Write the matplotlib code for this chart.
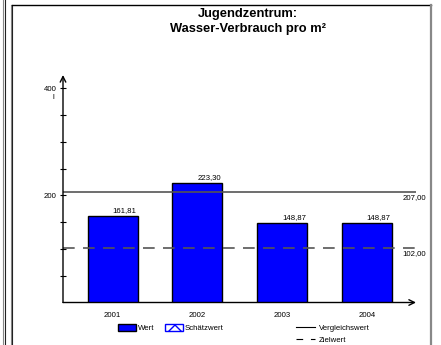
import numpy as np
import matplotlib.pyplot as plt
from matplotlib.patches import Patch
from matplotlib.lines import Line2D

plt.rcParams['font.family'] = ['Liberation Sans', 'DejaVu Sans']

# data
jahre = ['2001', '2002', '2003', '2004']
werte = [161.81, 223.30, 148.87, 148.87]
vergleichswert = 207.00
zielwert = 102.00
titel = 'Jugendzentrum:\nWasser-Verbrauch pro m²'
einheit = 'l'

W, H = 441, 345
fs = 5.6
fig = plt.figure(figsize=(W / 100, H / 100), dpi=100)

# outer frames (page decoration)
top = 1 - 4.5 / H
for x0, c in [(3, '#888888'), (4.5, '#222222'), (11, '#888888'), (12, '#222222')]:
    fig.add_artist(Line2D([x0 / W, x0 / W], [0, top if x0 > 10 else 1], color=c, lw=0.8))
fig.add_artist(Line2D([12 / W, 431 / W], [top, top], color='black', lw=1))
fig.add_artist(Line2D([431 / W, 431 / W], [0, top], color='#888888', lw=1.6))

ax = fig.add_axes([63 / W, 1 - 302.5 / H, (416 - 63) / W, 227.5 / H])
x = np.arange(len(jahre))
ax.bar(x, werte, width=0.59, color='#0000ff', edgecolor='black', linewidth=1, zorder=2)

ax.axhline(vergleichswert, color='#555555', lw=1.2, zorder=3)
ax.axhline(zielwert, color='#555555', lw=1.2, ls=(0, (7, 5)), zorder=3)

ax.set_xlim(-0.586, 3.578)
ax.set_ylim(0, 425)

for xi, v in zip(x, werte):
    ax.text(xi + 0.28, v + 4, f'{v:.2f}'.replace('.', ','), ha='right', va='bottom', fontsize=fs)
for v in (vergleichswert, zielwert):
    ax.text(426 / W, v - 4, f'{v:.2f}'.replace('.', ','),
            transform=ax.get_yaxis_transform().__class__(fig.transFigure, ax.transData),
            ha='right', va='top', fontsize=fs)

for s in ax.spines.values():
    s.set_visible(False)
ax.annotate('', xy=(0, 1), xytext=(0, 0), xycoords='axes fraction',
            arrowprops=dict(arrowstyle='->', lw=1, color='black', shrinkA=0, shrinkB=0))
ax.annotate('', xy=(1, 0), xytext=(0, 0), xycoords='axes fraction',
            arrowprops=dict(arrowstyle='->', lw=1, color='black', shrinkA=0, shrinkB=0))

ax.set_yticks(np.arange(50, 401, 50))
ax.set_yticklabels(['' if t % 200 else str(t) for t in range(50, 401, 50)])
ax.tick_params(axis='y', direction='inout', length=5, width=0.8, labelsize=fs, pad=2)
ax.set_xticks(x)
ax.set_xticklabels(jahre)
ax.tick_params(axis='x', length=0, labelsize=fs, pad=7)
ax.text(-0.025, 0.90, einheit, transform=ax.transAxes, ha='right', va='center', fontsize=fs)

fig.text(248 / W, 1 - 21.5 / H, titel, ha='center', va='center', fontsize=9.3,
         fontweight='bold', linespacing=1.25)

# legend
handles = [Patch(facecolor='#0000ff', edgecolor='black', label='Wert'),
           Patch(facecolor='white', edgecolor='#0000ff', hatch='xx', label='Schätzwert')]
fig.legend(handles=handles, loc='center left', bbox_to_anchor=(118 / W, 1 - 328 / H), ncol=2,
           frameon=False, fontsize=fs, handlelength=2.3, handleheight=1.1, columnspacing=1.3,
           handletextpad=0.3, borderpad=0, borderaxespad=0)
lhandles = [Line2D([], [], color='black', lw=0.8, label='Vergleichswert'),
            Line2D([], [], color='black', lw=0.8, ls=(0, (6, 7)), label='Zielwert')]
fig.legend(handles=lhandles, loc='center left', bbox_to_anchor=(296 / W, 1 - 334 / H), ncol=1,
           frameon=False, fontsize=fs, handlelength=2.4, handletextpad=0.5, labelspacing=0.6,
           borderpad=0, borderaxespad=0)

fig.savefig('out.png', dpi=100)
